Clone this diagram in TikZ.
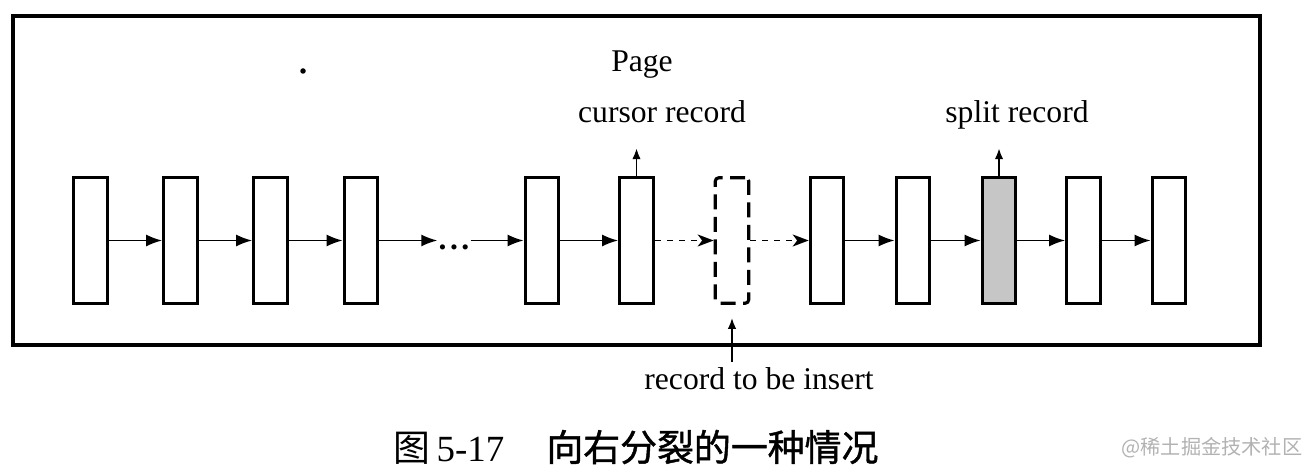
\documentclass[tikz,border=0pt]{standalone}
\usepackage{fontspec}
\setmainfont{Liberation Serif}
\newfontfamily\cjk{Noto Sans CJK SC}
\newfontfamily\cjkhei[FakeBold=1.2]{Noto Sans CJK SC}
\usetikzlibrary{calc,arrows.meta}
\tikzset{
  frame/.style={draw=black, line width=1.8pt},
  rec/.style={draw, fill=white, line width=1.8pt, minimum width=0.67cm, minimum height=2.51cm, inner sep=0pt},
  newrec/.style={rec, dash pattern=on 0.3cm off 0.15cm, rounded corners=2pt},
  splitrec/.style={rec, fill=gray!45},
  ptr/.style={line width=1.1pt, -{Latex[length=3.2mm,width=2.4mm]}},
  dptr/.style={line width=1.1pt, dash pattern=on 0.12cm off 0.12cm, -{Stealth[length=3.2mm,width=2.4mm,inset=0.9mm]}},
  upptr/.style={line width=1.1pt, -{Latex[length=2.2mm,width=1.7mm]}},
  lbl/.style={font=\fontsize{18}{20}\selectfont, inner sep=0pt}
}
\begin{document}
\begin{tikzpicture}[x=0.02cm,y=-0.02cm]
  \useasboundingbox (0,0) rectangle (1308,472);
  % page frame
  \draw[frame] (13,16) rectangle (1260,345);
  \fill (303,71) circle (0.055cm);
  \node[lbl, anchor=base] (page) at (642,72) {Page};
  % records
  \node[rec] (r1) at (90.5,240.5) {};
  \node[rec] (r2) at (180.5,240.5) {};
  \node[rec] (r3) at (270.5,240.5) {};
  \node[rec] (r4) at (361,240.5) {};
  \node[lbl, inner sep=0.5pt] (gap) at (454,247) {\textbf{.\kern2pt.\kern2pt.}};
  \node[rec] (r5) at (542,240.5) {};
  \node[rec] (r6) at (636.5,240.5) {};
  \node[newrec] (r7) at (732,240.5) {};
  \node[rec] (r8) at (827,240.5) {};
  \node[rec] (r9) at (913,240.5) {};
  \node[splitrec] (r10) at (999,240.5) {};
  \node[rec] (r11) at (1083.5,240.5) {};
  \node[rec] (r12) at (1169,240.5) {};
  % next pointers
  \draw[ptr] (r1) -- (r2);
  \draw[ptr] (r2) -- (r3);
  \draw[ptr] (r3) -- (r4);
  \draw[ptr] (r4) -- (r4 -| gap.west);
  \draw[ptr] (gap.east |- r5) -- (r5);
  \draw[ptr] (r5) -- (r6);
  \draw[dptr] (r6) -- (r7);
  \draw[dptr] (r7) -- (r8);
  \draw[ptr] (r8) -- (r9);
  \draw[ptr] (r9) -- (r10);
  \draw[ptr] (r10) -- (r11);
  \draw[ptr] (r11) -- (r12);
  % labels
  \node[lbl, anchor=base] (cur) at (662,123) {cursor record};
  \coordinate (curtop) at ($(r6.north)+(0,-28)$);
  \draw[upptr] (r6.north) -- (curtop);
  \node[lbl, anchor=base] (spl) at (1017,123) {split record};
  \coordinate (spltop) at ($(r10.north)+(0,-28)$);
  \draw[upptr] (r10.north) -- (spltop);
  \node[lbl, anchor=base] (ins) at (759,390) {record to be insert};
  \coordinate (insbot) at ($(r7.south)+(0,57)$);
  \draw[upptr, shorten >=0.26cm] (insbot) -- (r7.south);
  % caption
  \node[font=\fontsize{21}{24}\selectfont, inner sep=0pt] (cap) at (636,447)
    {{\cjk 图}\,5-17\hspace{24pt}{\cjkhei 向右分裂的一种情况}};
  \node[font=\cjk\fontsize{11.5}{13}\selectfont, text=gray!60, inner sep=0pt] (mark) at (1212,448) {@稀土掘金技术社区};
\end{tikzpicture}
\end{document}
